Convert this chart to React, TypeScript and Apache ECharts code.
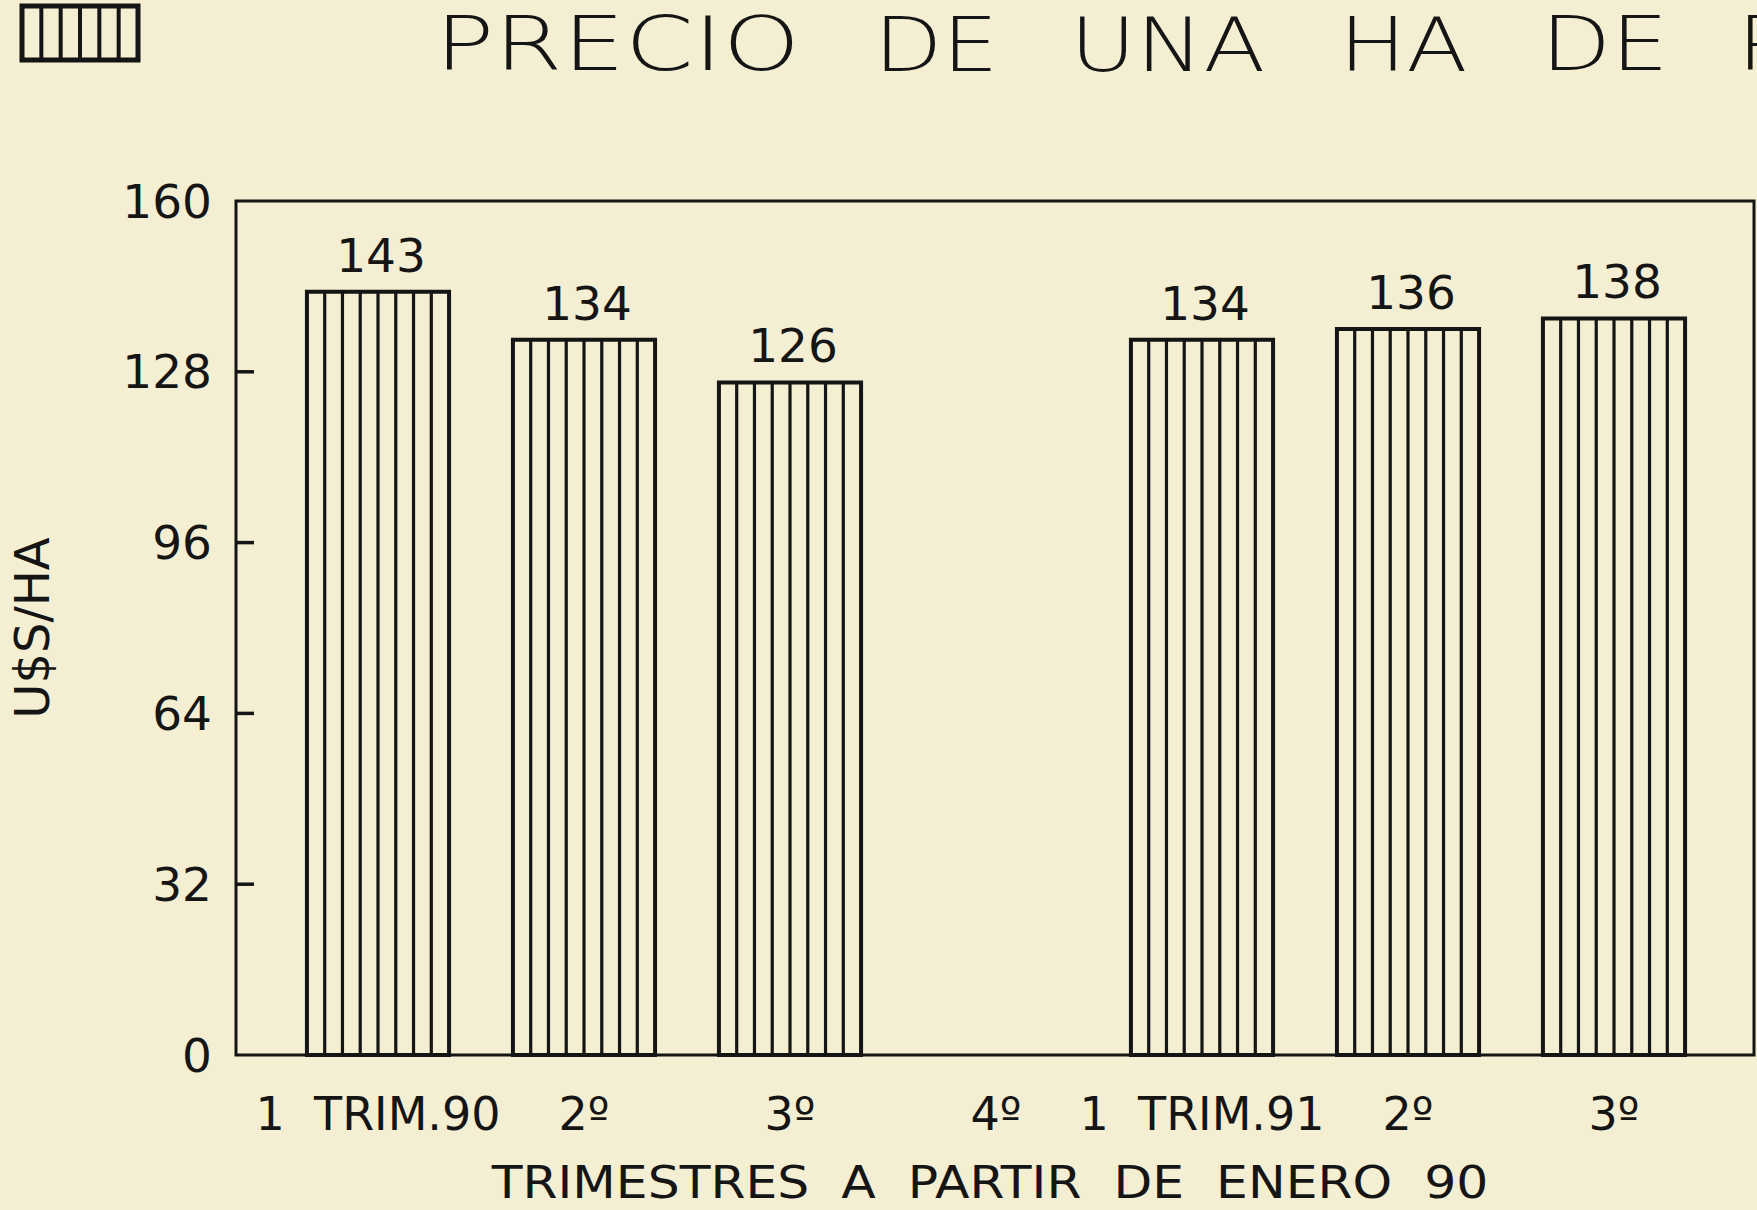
import React, { useEffect, useRef } from "react";
import * as echarts from "echarts";

const categories = ["1  TRIM.90", "2º", "3º", "4º", "1  TRIM.91", "2º", "3º"];
const values: (number | null)[] = [143, 134, 126, null, 134, 136, 138];
const yTicks = [0, 32, 64, 96, 128, 160];
const titleWords = ["PRECIO", "DE", "UNA", "HA", "DE", "P"];
const xAxisTitle = "TRIMESTRES  A  PARTIR  DE  ENERO  90";
const yAxisTitle = "U$S/HA";

const INK = "#151515";
const PAPER = "#f4eed3";
const FONT = "DejaVu Sans";

export default function App() {
  const ref = useRef<HTMLDivElement>(null);
  useEffect(() => {
    document.body.style.margin = "0";
    document.body.style.overflow = "hidden";
    const chart = echarts.init(ref.current!, null, { renderer: "svg" });

    const barData = values
      .map((v, i) => [i, v])
      .filter((d) => d[1] !== null);
    const tickData = yTicks.slice(1, -1).map((t) => [0, t]);

    const titleX = [435, 874, 1070, 1339, 1541, 1737];
    const titleScale = [1.33, 1.2, 1.22, 1.21, 1.23, 1.23];

    const legendLines = [1, 2, 3, 4, 5].map((k) => ({
      type: "line",
      shape: { x1: 22 + (k * 116) / 6, y1: 6, x2: 22 + (k * 116) / 6, y2: 60 },
      style: { stroke: INK, lineWidth: 4 },
    }));

    const option: any = {
      animation: false,
      backgroundColor: PAPER,
      textStyle: { fontFamily: FONT },
      grid: [
        { left: 234, top: 201, right: 3, bottom: 155, show: true, borderColor: INK, borderWidth: 3, backgroundColor: "transparent" },
        { left: 275, top: 201, right: 40, bottom: 155 },
      ],
      xAxis: [
        { type: "value", gridIndex: 0, min: 0, max: 1, show: false },
        {
          type: "category",
          gridIndex: 1,
          data: categories,
          boundaryGap: true,
          axisLine: { show: false },
          axisTick: { show: false },
          axisLabel: { color: INK, fontSize: 46, fontFamily: FONT, margin: 36, interval: 0 },
        },
      ],
      yAxis: [
        {
          type: "value",
          gridIndex: 0,
          min: yTicks[0],
          max: yTicks[yTicks.length - 1],
          interval: yTicks[1] - yTicks[0],
          axisLine: { show: false },
          axisTick: { show: false },
          splitLine: { show: false },
          axisLabel: { color: INK, fontSize: 47, fontFamily: FONT, margin: 24 },
          name: yAxisTitle,
          nameLocation: "middle",
          nameRotate: 90,
          nameGap: 180,
          nameTextStyle: { color: INK, fontSize: 48, fontFamily: FONT },
        },
        { type: "value", gridIndex: 1, min: yTicks[0], max: yTicks[yTicks.length - 1], show: false },
      ],
      series: [
        {
          type: "custom",
          xAxisIndex: 0,
          yAxisIndex: 0,
          data: tickData,
          clip: false,
          renderItem: (params: any, api: any) => {
            const p = api.coord([api.value(0), api.value(1)]);
            return {
              type: "line",
              shape: { x1: p[0], y1: p[1], x2: p[0] + 18, y2: p[1] },
              style: { stroke: INK, lineWidth: 3.5 },
            };
          },
        },
        {
          type: "custom",
          xAxisIndex: 1,
          yAxisIndex: 1,
          data: barData,
          renderItem: (params: any, api: any) => {
            const idx = api.value(0);
            const v = api.value(1);
            if (v == null || isNaN(v)) return null;
            const top = api.coord([idx, v]);
            const bot = api.coord([idx, 0]);
            const bw = api.size([1, 0])[0] * 0.69;
            const x0 = top[0] - bw / 2;
            const h = bot[1] - top[1];
            const children: any[] = [
              {
                type: "rect",
                shape: { x: x0, y: top[1], width: bw, height: h },
                style: { fill: "none", stroke: INK, lineWidth: 4 },
              },
            ];
            for (let k = 1; k < 8; k++) {
              const x = x0 + (k * bw) / 8;
              children.push({
                type: "line",
                shape: { x1: x, y1: top[1], x2: x, y2: bot[1] },
                style: { stroke: INK, lineWidth: 3.2 },
              });
            }
            children.push({
              type: "text",
              style: {
                text: String(v),
                x: top[0] + 3,
                y: top[1] - 13,
                align: "center",
                verticalAlign: "bottom",
                fontSize: 47,
                fontFamily: FONT,
                fill: INK,
              },
            });
            return { type: "group", children };
          },
        },
      ],
      graphic: [
        {
          type: "rect",
          shape: { x: 22, y: 6, width: 116, height: 54 },
          style: { fill: "none", stroke: INK, lineWidth: 5 },
        },
        ...legendLines,
        ...titleWords.map((w, i) => ({
          type: "text",
          x: titleX[i],
          y: 45,
          scaleX: titleScale[i],
          style: {
            text: w,
            fontSize: 74,
            fontFamily: FONT,
            fontWeight: 200,
            fill: INK,
            align: "left",
            verticalAlign: "middle",
          },
        })),
        {
          type: "text",
          x: 990,
          y: 1182,
          scaleX: 1.12,
          style: {
            text: xAxisTitle,
            fontSize: 45,
            fontFamily: FONT,
            fill: INK,
            align: "center",
            verticalAlign: "middle",
          },
        },
      ],
    };
    chart.setOption(option);
    return () => chart.dispose();
  }, []);
  return <div ref={ref} style={{ width: 1757, height: 1210 }} />;
}
